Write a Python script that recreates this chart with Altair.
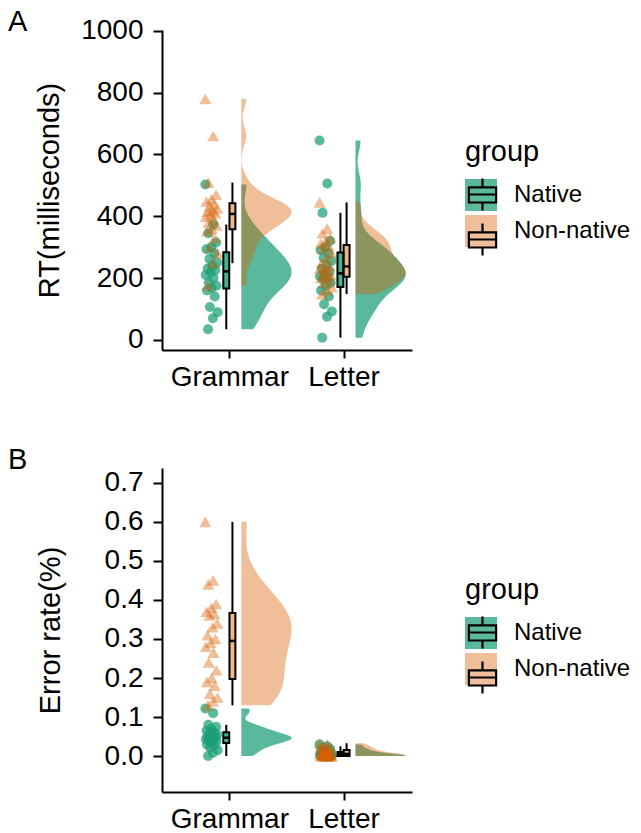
import altair as alt
import numpy as np
import pandas as pd

FONT = "Liberation Sans"

tasks = ["Grammar", "Letter"]
groups = ["Native", "Non-native"]
colors = ["#1b9e77", "#d95f02"]
point_shapes = ["circle", "triangle-up"]
panel_tags = ["A", "B"]

# Panel A: reaction times (ms)
rt_grammar_native = [503, 373, 345, 315, 300, 293, 280, 262, 250, 240, 231, 225,
                     218, 210, 200, 185, 175, 168, 160, 140, 106, 89, 70, 34]
rt_grammar_nonnative = [780, 660, 509, 470, 455, 448, 440, 432, 425, 420, 415, 410,
                        405, 398, 390, 380, 370, 360, 352, 330, 300, 280, 248, 176]
rt_letter_native = [645, 506, 411, 320, 300, 290, 280, 265, 255, 240, 230, 220,
                    210, 205, 200, 195, 185, 175, 160, 140, 115, 92, 75, 7]
rt_letter_nonnative = [445, 360, 345, 330, 320, 312, 305, 295, 280, 265, 250, 240,
                       235, 230, 225, 215, 210, 205, 200, 195, 185, 170, 160, 148]

# Panel B: error rates
err_grammar_native = [0.122, 0.110, 0.080, 0.075, 0.070, 0.065, 0.060, 0.058, 0.055, 0.052, 0.050, 0.048,
                      0.046, 0.044, 0.042, 0.040, 0.038, 0.035, 0.030, 0.027, 0.022, 0.015, 0.008, 0.000]
err_grammar_nonnative = [0.60, 0.45, 0.44, 0.39, 0.38, 0.37, 0.365, 0.36, 0.34, 0.33, 0.31, 0.30,
                         0.29, 0.28, 0.265, 0.24, 0.22, 0.20, 0.19, 0.18, 0.16, 0.15, 0.14, 0.13]
err_letter_native = [0.030, 0.025, 0.020, 0.018, 0.015, 0.012, 0.010, 0.010, 0.008, 0.007, 0.005, 0.005,
                     0.004, 0.003, 0.002, 0.000, 0.000, 0.000, 0.000, 0.000, 0.000, 0.000, 0.000, 0.000]
err_letter_nonnative = [0.033, 0.030, 0.025, 0.022, 0.020, 0.018, 0.015, 0.012, 0.010, 0.010, 0.008, 0.006,
                        0.005, 0.005, 0.003, 0.002, 0.000, 0.000, 0.000, 0.000, 0.000, 0.000, 0.000, 0.000]

rt_series = {
    ("Grammar", "Native"): rt_grammar_native,
    ("Letter", "Native"): rt_letter_native,
    ("Grammar", "Non-native"): rt_grammar_nonnative,
    ("Letter", "Non-native"): rt_letter_nonnative,
}
err_series = {
    ("Grammar", "Native"): err_grammar_native,
    ("Letter", "Native"): err_letter_native,
    ("Grammar", "Non-native"): err_grammar_nonnative,
    ("Letter", "Non-native"): err_letter_nonnative,
}


def nrd0(vals):
    a = np.asarray(vals, dtype=float)
    sd = a.std(ddof=1)
    q75, q25 = np.percentile(a, [75, 25])
    lo = min(sd, (q75 - q25) / 1.34)
    if lo <= 0:
        lo = sd
    return float(0.9 * lo * len(a) ** -0.2)


def make_df(series):
    rows = []
    for (task, group), vals in series.items():
        for i, v in enumerate(vals):
            rows.append({"task": task, "group": group, "group2": group, "value": v, "idx": i})
    return pd.DataFrame(rows)


GLYPH = "M-0.85,-0.45H0.85V0.5H-0.85Z M-0.85,0H0.85 M0,-1V-0.45 M0,0.5V1"
POS_EXPR = "indexof(['" + "','".join(tasks) + "'], datum.task) + 1"
LABEL_EXPR = "['" + "','".join(tasks) + "'][datum.value - 1]"
LEG_X, LEG_Y = 303, 108


def panel(series, ytitle, ydomain, yvalues, yfmt, tag, height, title_pad):
    df = make_df(series)
    xscale = alt.Scale(domain=[0.41, 2.60], nice=False, zero=False)
    yscale = alt.Scale(domain=ydomain, nice=False, zero=False)
    xaxis = alt.Axis(values=[1, 2], labelExpr=LABEL_EXPR, title=None, grid=False,
                     tickSize=8, labelPadding=5, labelAngle=0)
    yaxis = alt.Axis(values=yvalues, format=yfmt, title=ytitle, grid=False,
                     tickSize=9, labelPadding=10, titlePadding=title_pad)
    leg = alt.Legend(title="group", orient="none", legendX=LEG_X, legendY=LEG_Y,
                     symbolType="square", symbolSize=1024, symbolStrokeWidth=0,
                     labelOffset=17, rowPadding=4, titlePadding=12)
    glyph_leg = alt.Legend(title=None, orient="none", legendX=LEG_X, legendY=LEG_Y + 39,
                           symbolType=GLYPH, symbolSize=1024, symbolStrokeWidth=2.2,
                           symbolFillColor="transparent", symbolStrokeColor="black",
                           labelOffset=17, rowPadding=4, labelExpr="''")
    cscale = alt.Scale(domain=groups, range=colors)
    oscale = alt.Scale(domain=groups, range=[0.72, 0.4])
    color = alt.Color("group:N", scale=cscale, legend=leg)
    opacity = alt.Opacity("group:N", scale=oscale, legend=leg)
    color_nl = alt.Color("group:N", scale=cscale, legend=None)
    opacity_nl = alt.Opacity("group:N", scale=oscale, legend=None)

    layers = []
    # half violins
    for (task, group), vals in series.items():
        pos = tasks.index(task) + 1
        v = (
            alt.Chart(df)
            .transform_filter((alt.datum.task == task) & (alt.datum.group == group))
            .transform_density("value", as_=["value", "density"], groupby=["group"],
                               bandwidth=nrd0(vals), extent=[min(vals), max(vals)], steps=150)
            .transform_joinaggregate(maxd="max(density)")
            .transform_calculate(xl=f"{pos} + 0.105",
                                 xr=f"{pos} + 0.105 + 0.44 * datum.density / datum.maxd")
            .mark_area(orient="horizontal")
            .encode(y=alt.Y("value:Q", scale=yscale, axis=yaxis),
                    x=alt.X("xl:Q", scale=xscale, axis=xaxis),
                    x2="xr:Q", color=color, opacity=opacity)
        )
        layers.append(v)

    base = alt.Chart(df)
    # jittered points, one layer per group (circle / triangle)
    for g, shp, sz in zip(groups, point_shapes, [100, 150]):
        pts = (
            base.transform_filter(alt.datum.group == g)
            .transform_calculate(pos=POS_EXPR)
            .transform_calculate(xj="datum.pos - 0.155 + (((datum.idx * 0.618034) % 1) - 0.5) * 0.11")
            .mark_point(filled=True, shape=shp, size=sz, strokeWidth=0)
            .encode(x=alt.X("xj:Q", scale=xscale, axis=xaxis),
                    y=alt.Y("value:Q", scale=yscale, axis=yaxis),
                    color=color_nl, opacity=opacity_nl)
        )
        layers.append(pts)

    stats = (
        base.transform_joinaggregate(q1="q1(value)", q3="q3(value)", med="median(value)",
                                     groupby=["task", "group"])
        .transform_calculate(iqr="datum.q3 - datum.q1")
        .transform_filter("datum.value >= datum.q1 - 1.5 * datum.iqr && datum.value <= datum.q3 + 1.5 * datum.iqr")
        .transform_aggregate(wlo="min(value)", whi="max(value)", q1="max(q1)", q3="max(q3)",
                             med="max(med)", groupby=["task", "group", "group2"])
        .transform_calculate(cx=POS_EXPR + " + (datum.group == 'Native' ? -0.027 : 0.027)")
        .transform_calculate(bx1="datum.cx - 0.026", bx2="datum.cx + 0.026")
    )
    wl = stats.mark_rule(color="black", strokeWidth=2).encode(
        x=alt.X("cx:Q", scale=xscale, axis=xaxis), y=alt.Y("wlo:Q", scale=yscale, axis=yaxis), y2="q1:Q")
    wh = stats.mark_rule(color="black", strokeWidth=2).encode(
        x=alt.X("cx:Q", scale=xscale, axis=xaxis), y=alt.Y("q3:Q", scale=yscale, axis=yaxis), y2="whi:Q")
    box = stats.mark_rect(strokeWidth=2).encode(
        x=alt.X("bx1:Q", scale=xscale, axis=xaxis), x2="bx2:Q",
        y=alt.Y("q1:Q", scale=yscale, axis=yaxis), y2="q3:Q",
        color=color_nl,
        fillOpacity=alt.FillOpacity("group:N", scale=alt.Scale(domain=groups, range=[0.8, 0.45]), legend=None),
        stroke=alt.Stroke("group2:N", scale=alt.Scale(range=["black", "black"]), legend=glyph_leg))
    med = stats.mark_rule(color="black", strokeWidth=2.5).encode(
        x=alt.X("bx1:Q", scale=xscale, axis=xaxis), x2="bx2:Q",
        y=alt.Y("med:Q", scale=yscale, axis=yaxis))
    layers += [wl, wh, box, med]

    tag_layer = alt.Chart(pd.DataFrame({"tag": [tag]})).mark_text(
        align="left", baseline="top", fontSize=29, font=FONT, color="black"
    ).encode(text="tag:N", x=alt.value(-154), y=alt.value(-22))
    layers.append(tag_layer)

    return alt.layer(*layers).properties(width=250, height=height)


panel_a = panel(rt_series, "RT(milliseconds)", [-33, 1003], [0, 200, 400, 600, 800, 1000], "d",
                panel_tags[0], 320, 16)
panel_b = panel(err_series, "Error rate(%)", [-0.092, 0.738], [0.0, 0.1, 0.2, 0.3, 0.4, 0.5, 0.6, 0.7], ".1f",
                panel_tags[1], 324, 39)

chart = (
    alt.vconcat(panel_a, panel_b, spacing=55)
    .resolve_scale(color="independent", opacity="independent", stroke="independent",
                   fillOpacity="independent")
    .resolve_legend(color="independent", opacity="independent", stroke="independent")
    .properties(padding={"left": 0, "top": 0, "right": 0, "bottom": 0})
    .configure_view(stroke=None)
    .configure_axis(labelFont=FONT, titleFont=FONT, labelColor="black", titleColor="black",
                    domainColor="black", tickColor="black", domainWidth=2, tickWidth=2,
                    labelFontSize=28, titleFontSize=29, titleFontWeight="normal")
    .configure_legend(labelFont=FONT, titleFont=FONT, labelColor="black", titleColor="black",
                      titleFontWeight="normal", labelFontSize=24, titleFontSize=29)
)

chart.save("out.html", embed_options={"renderer": "svg", "actions": False})
